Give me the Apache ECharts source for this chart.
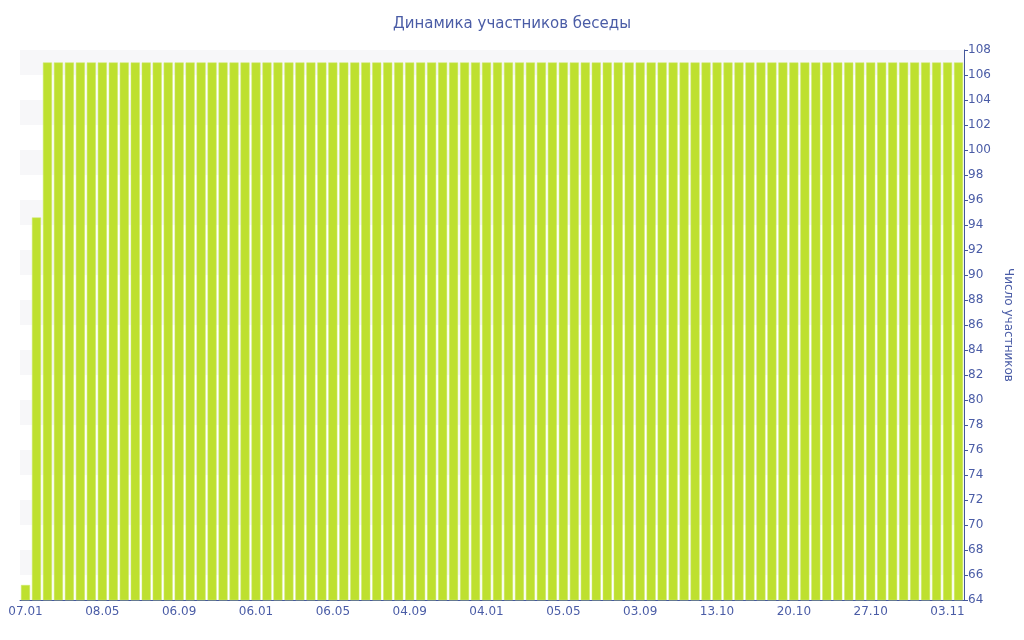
<!DOCTYPE html>
<html><head><meta charset="utf-8">
<script src="https://cdn.jsdelivr.net/npm/echarts@6/dist/echarts.min.js"></script>
<style>html,body{margin:0;padding:0;background:#fff}#c{width:1024px;height:640px}</style>
</head><body><div id="c"></div>
<script>
const title = 'Динамика участников беседы';
const yName = 'Число участников';
const tickLabels = ['07.01','08.05','06.09','06.01','06.05','04.09','04.01','05.05','03.09','13.10','20.10','27.10','03.11'];
const labelStep = 7;
const barCount = 86;
const firstValues = [65.2, 94.6];
const restValue = 107;
const categories = [];
for (let i = 0; i < barCount; i++) {
  categories.push(i % labelStep === 0 ? tickLabels[i / labelStep] : tickLabels[Math.floor(i / labelStep)] + '#' + (i % labelStep));
}
const values = categories.map((c, i) => i < firstValues.length ? firstValues[i] : restValue);
const txt = '#4a5ca6';
const font = 'DejaVu Sans';
const chart = echarts.init(document.getElementById('c'));
chart.setOption({
  animation: false,
  title: {text: title, left: 'center', top: 12, textStyle: {color: txt, fontSize: 15, fontWeight: 'normal', fontFamily: font}},
  grid: {left: 20, right: 60, top: 50, bottom: 40, containLabel: false},
  xAxis: {
    type: 'category', data: categories,
    axisLine: {lineStyle: {color: '#44579c', width: 1}},
    axisTick: {alignWithLabel: true, interval: labelStep - 1, length: 4, lineStyle: {color: '#44579c'}},
    axisLabel: {interval: labelStep - 1, color: txt, fontSize: 12, fontFamily: font, margin: 6,
      formatter: (v, i) => (i % labelStep === 0 ? tickLabels[i / labelStep] : '')},
    splitLine: {show: false}
  },
  yAxis: {
    type: 'value', position: 'right', min: 64, max: 108, interval: 2,
    name: yName, nameLocation: 'middle', nameRotate: -90, nameGap: 33,
    nameTextStyle: {color: txt, fontSize: 12, fontFamily: font},
    axisLine: {show: true, lineStyle: {color: '#44579c'}},
    axisTick: {show: true, length: 4, lineStyle: {color: '#44579c'}},
    axisLabel: {color: txt, fontSize: 12, fontFamily: font, margin: 4},
    splitLine: {show: false},
    splitArea: {show: true, areaStyle: {color: ['rgba(255,255,255,0)', '#f7f7f9']}}
  },
  series: [{
    type: 'bar', data: values, barCategoryGap: '18%',
    itemStyle: {color: '#bee02f', borderColor: '#cde86a', borderWidth: 0.5}
  }]
});
</script></body></html>
